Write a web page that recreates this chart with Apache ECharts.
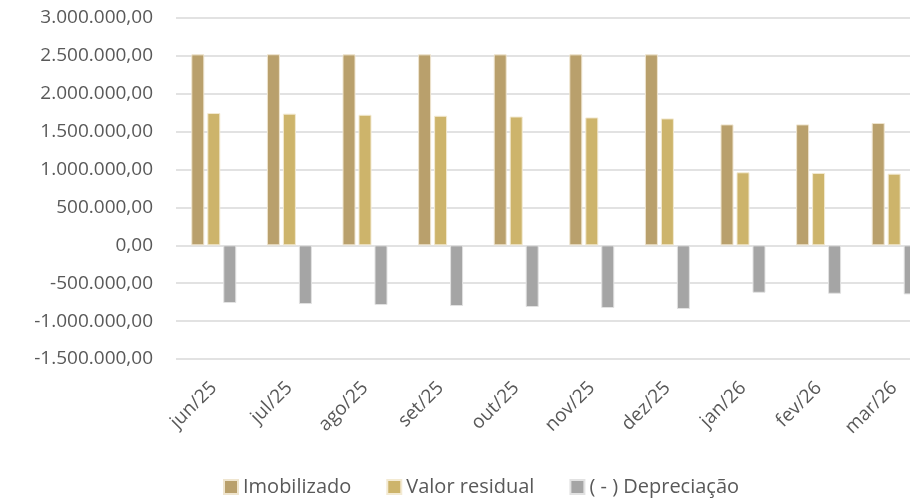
<!DOCTYPE html>
<html>
<head>
<meta charset="utf-8">
<script src="https://cdn.jsdelivr.net/npm/echarts@6/dist/echarts.min.js"></script>
<style>
  html, body { margin: 0; padding: 0; background: #fff; overflow: hidden; }
  #chart { width: 910px; height: 499px; }
</style>
</head>
<body>
<div id="chart"></div>
<script>
var months = ['jun/25', 'jul/25', 'ago/25', 'set/25', 'out/25', 'nov/25', 'dez/25', 'jan/26', 'fev/26', 'mar/26'];
var imobilizado = [2520000, 2522000, 2520000, 2520000, 2520000, 2520000, 2520000, 1596000, 1596000, 1614000];
var valorResidual = [1746000, 1738000, 1723000, 1710000, 1700000, 1688000, 1675000, 964000, 955000, 946000];
var depreciacao = [-761000, -775000, -788000, -801000, -814000, -827000, -840000, -626000, -639000, -648000];

var textColor = '#595959';
var fontFamily = '"Open Sans", "Noto Sans", sans-serif';

function formatBR (v) {
  var neg = v < 0;
  var s = Math.abs(Math.round(v)).toString();
  var out = '';
  while (s.length > 3) {
    out = '.' + s.slice(-3) + out;
    s = s.slice(0, -3);
  }
  return (neg ? '-' : '') + s + out + ',00';
}

var chart = echarts.init(document.getElementById('chart'));
chart.setOption({
  animation: false,
  textStyle: { fontFamily: fontFamily },
  grid: {
    left: 176,
    width: 756,
    top: 18,
    height: 341,
    outerBoundsMode: 'none'
  },
  legend: {
    left: 218,
    top: 472,
    itemWidth: 14,
    itemHeight: 14,
    itemGap: 35,
    icon: 'rect',
    textStyle: { color: textColor, fontSize: 20, fontFamily: fontFamily },
    data: ['Imobilizado', 'Valor residual', '( - ) Depreciação']
  },
  xAxis: {
    type: 'category',
    data: months,
    axisLine: { show: false },
    axisTick: { show: false },
    axisLabel: {
      rotate: 45,
      color: textColor,
      fontSize: 19,
      margin: 26,
      interval: 0
    }
  },
  yAxis: {
    type: 'value',
    min: -1500000,
    max: 3000000,
    interval: 500000,
    axisLine: { show: false },
    axisTick: { show: false },
    splitLine: { lineStyle: { color: '#d9d9d9', width: 1.5 } },
    axisLabel: {
      color: textColor,
      fontSize: 19,
      margin: 23,
      formatter: formatBR
    }
  },
  series: [{
    name: 'Imobilizado',
    type: 'bar',
    data: imobilizado,
    barWidth: 13,
    barGap: '23%',
    itemStyle: { color: '#b9a06c', borderColor: '#efe5cf', borderWidth: 1 }
  }, {
    name: 'Valor residual',
    type: 'bar',
    data: valorResidual,
    barWidth: 13,
    barGap: '23%',
    itemStyle: { color: '#cdb46b', borderColor: '#f3ead2', borderWidth: 1 }
  }, {
    name: '( - ) Depreciação',
    type: 'bar',
    data: depreciacao,
    barWidth: 13,
    barGap: '23%',
    itemStyle: { color: '#a5a5a5', borderColor: '#e2e2e2', borderWidth: 1 }
  }]
});
</script>
</body>
</html>
